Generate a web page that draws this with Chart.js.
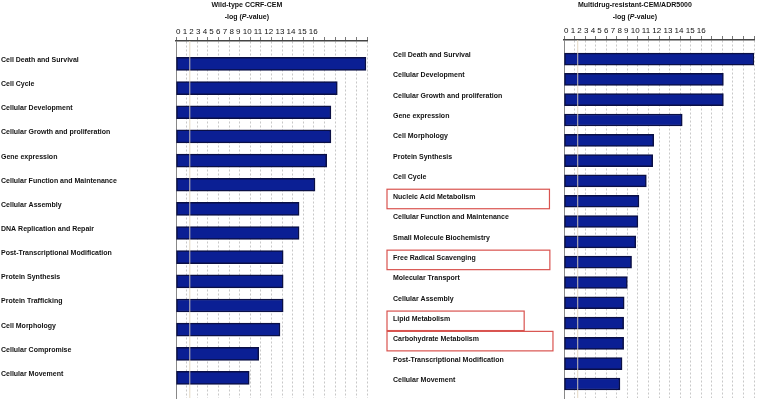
<!DOCTYPE html>
<html>
<head>
<meta charset="utf-8">
<script src="https://cdn.jsdelivr.net/npm/chart.js@4.4.1/dist/chart.umd.min.js"></script>
<style>
  body { margin: 0; background: #fff; }
  .panel { position: absolute; top: 0; height: 409px; }
  #wt { left: 0; width: 380px; }
  #adr { left: 380px; width: 383px; }
</style>
</head>
<body>
<div class="panel" id="wt"><canvas id="chart-wt"></canvas></div>
<div class="panel" id="adr"><canvas id="chart-adr"></canvas></div>
<script>
// ─── data ───
const wtCategories = [
  'Cell Death and Survival', 'Cell Cycle', 'Cellular Development',
  'Cellular Growth and proliferation', 'Gene expression',
  'Cellular Function and Maintenance', 'Cellular Assembly',
  'DNA Replication and Repair', 'Post-Transcriptional Modification',
  'Protein Synthesis', 'Protein Trafficking', 'Cell Morphology',
  'Cellular Compromise', 'Cellular Movement'
];
const wtValues = [17.9, 15.2, 14.6, 14.6, 14.2, 13.1, 11.6, 11.6, 10.1, 10.1, 10.1, 9.8, 7.8, 6.9];

const adrCategories = [
  'Cell Death and Survival', 'Cellular Development',
  'Cellular Growth and proliferation', 'Gene expression', 'Cell Morphology',
  'Protein Synthesis', 'Cell Cycle', 'Nucleic Acid Metabolism',
  'Cellular Function and Maintenance', 'Small Molecule Biochemistry',
  'Free Radical Scavenging', 'Molecular Transport', 'Cellular Assembly',
  'Lipid Metabolism', 'Carbohydrate Metabolism',
  'Post-Transcriptional Modification', 'Cellular Movement'
];
const adrValues = [18.0, 15.1, 15.1, 11.2, 8.5, 8.4, 7.8, 7.1, 7.0, 6.8, 6.4, 6.0, 5.7, 5.65, 5.65, 5.5, 5.3];
const adrHighlighted = ['Nucleic Acid Metabolism', 'Free Radical Scavenging', 'Lipid Metabolism', 'Carbohydrate Metabolism'];

const scaleLabels = [0, 1, 2, 3, 4, 5, 6, 7, 8, 9, 10, 11, 12, 13, 14, 15, 16];
const threshold = 1.3;   // -log(0.05)
const xMax = 18;

const FONT = '"Liberation Sans", Arial, sans-serif';
Chart.defaults.font.family = FONT;
Chart.defaults.color = '#111';

// header rows: panel title + "-log (P-value)" with italic P
const headerPlugin = {
  id: 'header',
  afterDraw(chart, args, o) {
    const ctx = chart.ctx;
    const xs = chart.scales.x;
    ctx.save();
    ctx.font = '8px ' + FONT;
    const cx = xs.left + ctx.measureText(scaleLabels.join(' ')).width / 2;
    ctx.fillStyle = '#111';
    ctx.textBaseline = 'middle';
    ctx.textAlign = 'center';
    ctx.font = 'bold 7px ' + FONT;
    ctx.fillText(o.title, cx, 5);
    const parts = [['bold 7px ', '-log ('], ['italic bold 7px ', 'P'], ['bold 7px ', '-value)']];
    let total = 0;
    parts.forEach(p => { ctx.font = p[0] + FONT; total += ctx.measureText(p[1]).width; });
    let x = cx - total / 2;
    ctx.textAlign = 'left';
    parts.forEach(p => {
      ctx.font = p[0] + FONT;
      ctx.fillText(p[1], x, 17);
      x += ctx.measureText(p[1]).width;
    });
    ctx.restore();
  }
};

// significance threshold line
const thresholdPlugin = {
  id: 'threshold',
  afterDatasetsDraw(chart) {
    const { ctx, chartArea } = chart;
    const x = chart.scales.x.getPixelForValue(threshold);
    ctx.save();
    ctx.strokeStyle = 'rgba(225,212,190,0.9)';
    ctx.lineWidth = 1;
    ctx.beginPath();
    ctx.moveTo(x, chartArea.top);
    ctx.lineTo(x, chartArea.bottom);
    ctx.stroke();
    ctx.restore();
  }
};

// red boxes round highlighted categories
const boxPlugin = {
  id: 'labelBoxes',
  afterDraw(chart, args, o) {
    if (!o.names || !o.names.length) return;
    const ctx = chart.ctx;
    const ys = chart.scales.y;
    ctx.save();
    ctx.font = 'bold 7px ' + FONT;
    ctx.strokeStyle = '#d9534f';
    ctx.lineWidth = 1.2;
    o.names.forEach(name => {
      const i = o.categories.indexOf(name);
      if (i < 0) return;
      const y = ys.getPixelForValue(i);
      const w = ctx.measureText(name).width;
      ctx.strokeRect(ys.left - 6, y - 12, w + 80, 19.5);
    });
    ctx.restore();
  }
};

function buildPanel(canvasId, cats, vals, cfg) {
  const ctx = document.getElementById(canvasId);
  return new Chart(ctx, {
    type: 'bar',
    data: {
      datasets: [{
        data: vals.map((v, i) => ({ x: v, y: i })),
        backgroundColor: '#0b1f94',
        borderColor: '#0a0f45',
        borderWidth: 1.5,
        borderSkipped: false,
        barThickness: cfg.barThickness,
      }]
    },
    options: {
      indexAxis: 'y',
      responsive: true,
      maintainAspectRatio: false,
      animation: false,
      layout: { padding: cfg.padding },
      plugins: {
        legend: { display: false },
        tooltip: { enabled: false },
        header: { title: cfg.title },
        labelBoxes: { names: cfg.boxed || [], categories: cats }
      },
      scales: {
        x: {
          type: 'linear',
          position: 'top',
          min: 0,
          max: xMax,
          ticks: { display: false, stepSize: 1 },
          grid: { color: '#c8c8c8', lineWidth: 1, tickLength: 4, tickColor: '#777' },
          border: { color: '#444', width: 1.5, dash: [2, 2] },
          title: {
            display: true,
            text: scaleLabels.join(' '),
            align: 'start',
            color: '#111',
            font: { size: 8 },
            padding: 0
          }
        },
        y: {
          type: 'linear',
          reverse: true,
          offset: false,
          min: cfg.yMin,
          max: cfg.yMax,
          afterFit: s => { s.width = cfg.labelWidth; },
          afterBuildTicks: s => { s.ticks = cats.map((c, i) => ({ value: i })); },
          ticks: {
            autoSkip: false,
            callback: v => cats[v],
            crossAlign: 'far',
            labelOffset: -4,
            color: '#111',
            font: { size: 7, weight: 'bold' }
          },
          grid: { display: false, drawTicks: false },
          border: { color: '#888', width: 1 }
        }
      }
    },
    plugins: [headerPlugin, thresholdPlugin, boxPlugin]
  });
}

buildPanel('chart-wt', wtCategories, wtValues, {
  title: 'Wild-type CCRF-CEM',
  padding: { top: 27.4, left: 1, right: 13, bottom: 11 },
  labelWidth: 175,
  yMin: -0.95,
  yMax: wtCategories.length - 1 + 0.83,
  barThickness: 13
});

buildPanel('chart-adr', adrCategories, adrValues, {
  title: 'Multidrug-resistant-CEM/ADR5000',
  padding: { top: 26.4, left: 13, right: 9, bottom: 11 },
  labelWidth: 171,
  yMin: -0.94,
  yMax: adrCategories.length - 1 + 0.69,
  barThickness: 12,
  boxed: adrHighlighted
});
</script>
</body>
</html>
